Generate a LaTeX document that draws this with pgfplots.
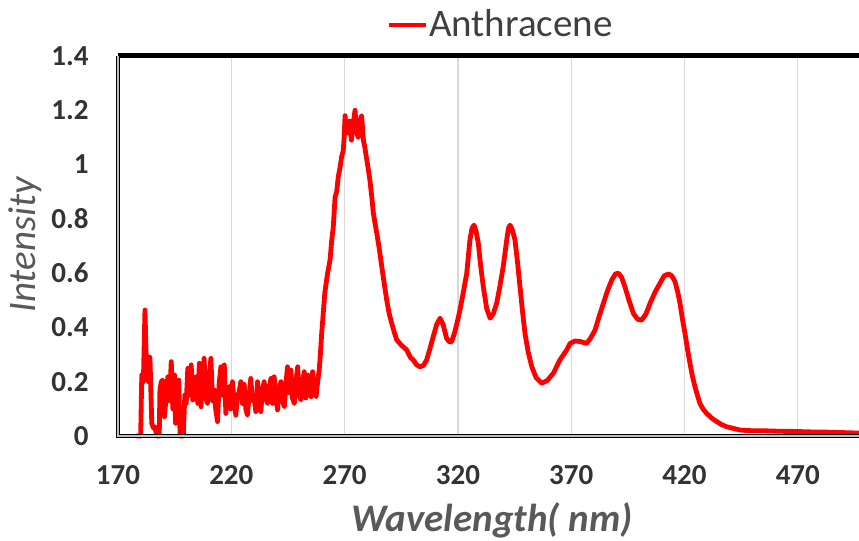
\documentclass[border=0pt]{standalone}
\usepackage{fontspec}
\setmainfont{Carlito}
\usepackage{pgfplots}
\pgfplotsset{compat=1.18}
\definecolor{tickc}{HTML}{333333}
\definecolor{titlec}{HTML}{595959}
\definecolor{gridc}{HTML}{D9D9D9}
\definecolor{legc}{HTML}{404040}
\begin{document}
\begin{tikzpicture}
\path[use as bounding box] (0,0) rectangle (429.5bp,270.5bp);
\begin{axis}[
  name=ax,
  at={(59bp,52.5bp)}, anchor=south west,
  scale only axis, width=370.5bp, height=190bp,
  xmin=170, xmax=497, ymin=0, ymax=1.4,
  clip=false,
  axis line style={draw=none},
  xtick={170,220,270,320,370,420,470},
  ytick={0,0.2,0.4,0.6,0.8,1,1.2,1.4},
  major tick length=0pt,
  xmajorgrids, grid style={gridc, line width=0.6bp},
  /pgf/number format/assume math mode=true,
  yticklabel={\pgfmathprintnumber[fixed,precision=1]{\tick}},
  xticklabel style={font=\fontsize{14.5bp}{16bp}\selectfont\bfseries, text=tickc, anchor=north, inner sep=0pt, yshift=-14.5bp},
  yticklabel style={font=\fontsize{14.5bp}{16bp}\selectfont\bfseries, text=tickc, anchor=east, inner sep=0pt, xshift=-14.5bp},
  xlabel={Wavelength( nm)},
  ylabel={Intensity},
  every axis x label/.style={at={(rel axis cs:0.505,-0.2526)}, anchor=base, font=\fontsize{19.5bp}{22bp}\selectfont\bfseries\itshape, text=titlec},
  every axis y label/.style={at={(rel axis cs:-0.112,0.503)}, rotate=90, anchor=base, font=\fontsize{19.5bp}{22bp}\selectfont\itshape, text=titlec},
  legend style={at={(rel axis cs:0.516,1.082)}, anchor=center, draw=none, fill=none, font=\fontsize{19.5bp}{22bp}\selectfont, text=legc, inner sep=0pt, nodes={inner sep=0.8bp}},
  legend image code/.code={\draw[#1,line width=2bp] (0bp,0bp) -- (18.5bp,0bp);},
]
\addplot[color=red, line width=2.4bp, line join=round, no marks] coordinates {
(178,0) (180,0) (180.5,0.225) (181.2,0.2) (181.9,0.464) (182.4,0.30) (182.9,0.29) (183.5,0.20) (184.1,0.29)
(184.9,0.047) (185.6,0.03) (186.3,0.034) (187.1,0) (188.2,0) (188.5,0.17) (189.1,0.20) (189.7,0.206)
(190.5,0.071) (191.2,0.14) (192.0,0.218) (192.7,0.13) (193.5,0.274) (194.2,0.10) (194.9,0.225)
(195.4,0.047) (196.1,0.16) (196.8,0.206) (197.4,0) (198.1,0) (198.8,0) (199.5,0.151) (200.1,0.12)
(200.8,0.249) (201.5,0.15) (202.3,0.262) (203.0,0.133) (203.7,0.17) (204.5,0.218) (205.2,0.12)
(205.9,0.268) (206.6,0.108) (207.3,0.20) (208.0,0.286) (208.7,0.14) (209.5,0.12) (210.2,0.22)
(211.0,0.286) (211.7,0.13) (212.4,0.17) (213.1,0.10) (213.9,0.053) (214.6,0.19) (215.4,0.255)
(216.1,0.15) (216.9,0.262) (217.6,0.083) (218.3,0.17) (219.0,0.182) (219.7,0.10) (220.5,0.2)
(221.2,0.13) (222.0,0.077) (222.7,0.15) (223.4,0.16) (224.2,0.2) (224.9,0.12) (225.7,0.19)
(226.4,0.10) (227.1,0.077) (227.9,0.15) (228.6,0.212) (229.3,0.13) (230.1,0.145) (230.8,0.09)
(231.6,0.2) (232.3,0.12) (233.0,0.09) (233.8,0.17) (234.5,0.2) (235.2,0.14) (236.0,0.12)
(236.7,0.18) (237.5,0.212) (238.2,0.12) (238.9,0.218) (239.7,0.15) (240.4,0.096) (241.1,0.17)
(241.9,0.2) (242.6,0.13) (243.4,0.108) (244.1,0.19) (244.8,0.255) (245.5,0.16) (246.3,0.243)
(247.0,0.14) (247.8,0.12) (248.5,0.20) (249.3,0.255) (250.0,0.15) (250.7,0.133) (251.5,0.2)
(252.2,0.237) (252.9,0.14) (253.7,0.225) (254.4,0.18) (255.2,0.145) (255.9,0.237) (256.6,0.16)
(257.4,0.145) (258.1,0.2) (258.8,0.243) (259.3,0.30) (259.9,0.38) (261.3,0.53) (262.5,0.60)
(263.6,0.65) (264.3,0.72) (265,0.77) (265.8,0.88) (266.5,0.90) (267.2,0.955) (268,0.99)
(268.7,1.03) (269.4,1.05) (269.8,1.10) (270.2,1.18) (270.9,1.12) (271.6,1.115) (272.3,1.16)
(273,1.09) (273.8,1.15) (274.6,1.2) (275.3,1.12) (276,1.10) (276.7,1.16) (277.5,1.18) (278.3,1.09)
(279,1.06) (279.8,1.017) (280.5,0.98) (281.2,0.94) (282,0.88) (282.7,0.82) (283.5,0.78) (284.2,0.747)
(285.3,0.69) (286.4,0.624) (287.5,0.56) (288.6,0.50) (289.7,0.45) (290.8,0.415) (292,0.38)
(293,0.354) (295,0.335) (297.4,0.317) (299,0.29) (300.3,0.28) (301.8,0.262) (303.3,0.255)
(304.8,0.26) (306.2,0.28) (307.6,0.32) (309.1,0.366) (310.6,0.41) (312.1,0.434) (313.5,0.41)
(315,0.36) (316.2,0.347) (317.2,0.347) (318.5,0.38) (320,0.43) (320.9,0.464) (322.4,0.53)
(323.9,0.6) (325.3,0.722) (326.2,0.765) (327.1,0.777) (328,0.755) (329,0.71) (330,0.63)
(331.2,0.55) (332.7,0.47) (334.2,0.434) (335.6,0.45) (337.1,0.489) (338.5,0.55) (340,0.624)
(341.5,0.72) (342.3,0.765) (343,0.777) (344,0.76) (345.2,0.722) (346.3,0.64) (347.4,0.55)
(348.5,0.46) (349.6,0.378) (351,0.31) (352.6,0.255) (354.5,0.215) (357,0.194) (359.5,0.205)
(362.1,0.231) (365,0.28) (368,0.317) (369.5,0.341) (371.7,0.35) (374,0.348) (376.8,0.341)
(378.5,0.36) (380.5,0.39) (382.3,0.44) (384.2,0.489) (386,0.535) (387.9,0.575) (389.5,0.597)
(390.8,0.6) (392.2,0.585) (393.7,0.55) (395.5,0.50) (397.4,0.452) (399.3,0.43) (401.1,0.427)
(403,0.45) (404.8,0.489) (407,0.53) (409.2,0.563) (411,0.59) (412.9,0.597) (414.4,0.59)
(415.8,0.569) (417,0.53) (418,0.489) (419.1,0.43) (420.2,0.378) (421.3,0.32) (422.4,0.268)
(423.5,0.22) (424.6,0.182) (425.7,0.15) (426.8,0.12) (428.3,0.098) (429.8,0.083) (432,0.066)
(434.2,0.053) (436.4,0.042) (438.6,0.034) (441.5,0.028) (444.5,0.022) (448,0.02) (452,0.019)
(456,0.019) (460,0.018) (464,0.017) (468,0.017) (472,0.016) (476,0.015) (480,0.015) (484,0.014)
(488,0.013) (492,0.012) (496,0.011) (500,0.011)
};
\addlegendentry{Anthracene}
\end{axis}
\draw[black, line width=2.5bp] (ax.north west) -- (ax.north east);
\draw[black, line width=0.7bp, double=gray!50, double distance=0.8bp] (ax.north west) -- (ax.south west) -- (ax.south east);
\end{tikzpicture}
\end{document}
